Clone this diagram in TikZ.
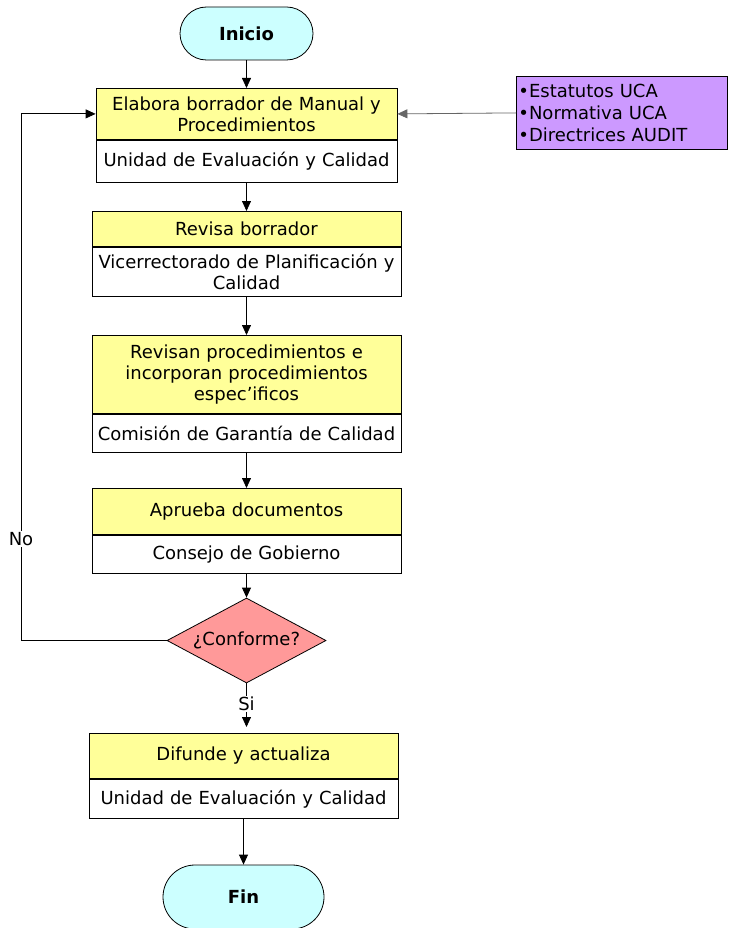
\documentclass[tikz,border=0pt]{standalone}
\usepackage{fontspec}
\setmainfont{DejaVu Sans}
\usetikzlibrary{shapes.geometric,shapes.misc,arrows.meta}
\definecolor{cterm}{HTML}{CCFFFF}
\definecolor{cact}{HTML}{FFFF99}
\definecolor{cin}{HTML}{CC99FF}
\definecolor{cdec}{HTML}{FF9999}
\definecolor{cfeed}{HTML}{666666}
\begin{document}
\begin{tikzpicture}[x=1pt,y=-1pt, line width=0.8pt,
  every node/.style={font=\fontsize{18pt}{21pt}\selectfont, inner sep=0pt},
  term/.style={rounded rectangle, draw, fill=cterm, font=\fontsize{18pt}{21pt}\selectfont\bfseries},
  acttop/.style={rectangle, draw, fill=cact, anchor=north, align=center},
  actbot/.style={rectangle, draw, fill=white, anchor=north, align=center},
  dec/.style={diamond, draw, fill=cdec, aspect=1.87},
  inbox/.style={rectangle, draw, fill=cin, anchor=north west, align=left, inner xsep=2pt},
  lab/.style={fill=white, inner sep=1pt},
  arr/.style={draw, -{Triangle[width=9pt,length=10pt]}},
  feed/.style={draw=cfeed, -{Triangle[width=9pt,length=10pt]}}
]
\useasboundingbox (0,0) rectangle (728,928);

% start / end terminals
\node[term, minimum width=133pt, minimum height=53pt] (ini) at (246.5,33.5) {Inicio};
\node[term, minimum width=161pt, minimum height=64pt] (fin) at (243.5,897) {Fin};

% activity boxes: task on top, responsible unit below
\node[acttop, minimum width=301pt, minimum height=51pt, text width=298pt] (b1t) at (246.5,88)
  {Elabora borrador de Manual y\\Procedimientos};
\node[actbot, minimum width=301pt, minimum height=42pt, text width=300pt] (b1b) at (b1t.south)
  {Unidad de Evaluación y Calidad};

\node[acttop, minimum width=309pt, minimum height=35pt, text width=306pt] (b2t) at (246.5,211)
  {Revisa borrador};
\node[actbot, minimum width=309pt, minimum height=49pt, text width=308pt] (b2b) at (b2t.south)
  {Vicerrectorado de Planificación y\\Calidad};

\node[acttop, minimum width=309pt, minimum height=78pt, text width=306pt] (b3t) at (246.5,335)
  {Revisan procedimientos e\\incorporan procedimientos\\espec’ificos};
\node[actbot, minimum width=309pt, minimum height=38pt, text width=308pt] (b3b) at (b3t.south)
  {Comisión de Garantía de Calidad};

\node[acttop, minimum width=309pt, minimum height=46pt, text width=306pt] (b4t) at (246.5,488)
  {Aprueba documentos};
\node[actbot, minimum width=309pt, minimum height=38pt, text width=308pt] (b4b) at (b4t.south)
  {Consejo de Gobierno};

\node[acttop, minimum width=309pt, minimum height=45pt, text width=306pt] (b5t) at (243.5,733)
  {Difunde y actualiza};
\node[actbot, minimum width=309pt, minimum height=39pt, text width=308pt] (b5b) at (b5t.south)
  {Unidad de Evaluación y Calidad};

% decision
\node[dec, minimum width=159pt, minimum height=85pt] (dec) at (246.5,640.5) {¿Conforme?};

% reference documents
\node[inbox, minimum width=211pt, minimum height=73pt, text width=207pt, font=\fontsize{18pt}{22pt}\selectfont] (docs) at (516,76)
  {•Estatutos UCA\\•Normativa UCA\\•Directrices AUDIT};

% main flow
\draw[arr] (ini.south) -- (b1t.north);
\draw[arr] (b1b.south -| ini.south) -- (b2t.north -| ini.south);
\draw[arr] (b2b.south) -- (b3t.north);
\draw[arr] (b3b.south) -- (b4t.north);
\draw[arr] (b4b.south) -- (dec.north);
\draw[arr, shorten >=6pt] (dec.south) -- (b5t.north -| dec.south);
\draw[arr] (b5b.south) -- (fin.north);

% inputs feeding the first task
\draw[feed] (docs.west) -- (b1t.east);

% rejection loop back to the first task
\coordinate (loop) at (21,640.5);
\draw[arr] (dec.west) -- (loop) |- (b1t.west);

% branch labels
\node[lab] (no) at (21,539) {No};
\node[lab] (si) at (246.5,704) {Si};
\end{tikzpicture}
\end{document}
